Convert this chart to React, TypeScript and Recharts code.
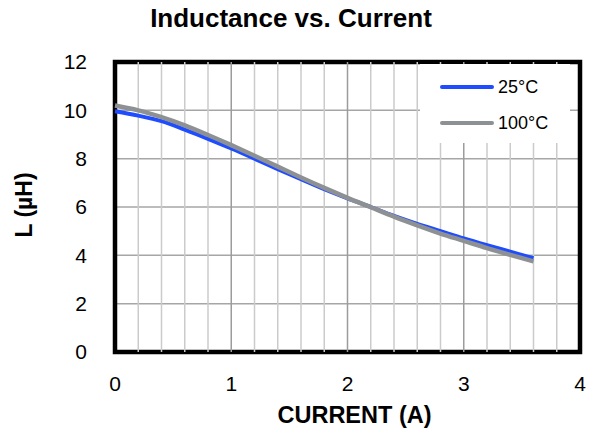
import React from 'react';
import {
  LineChart,
  Line,
  XAxis,
  YAxis,
  CartesianGrid,
  ReferenceLine,
  ReferenceArea,
  Legend,
  Label,
} from 'recharts';

// current (A)
const current = [0, 0.2, 0.4, 0.6, 0.8, 1.0, 1.2, 1.4, 1.6, 1.8, 2.0, 2.2, 2.4, 2.6, 2.8, 3.0, 3.2, 3.4, 3.6];
// inductance (uH)
const l25 = [9.96, 9.78, 9.55, 9.2, 8.82, 8.42, 8.0, 7.57, 7.15, 6.74, 6.36, 6.0, 5.63, 5.3, 5.0, 4.7, 4.42, 4.15, 3.88];
const l100 = [10.2, 10.0, 9.72, 9.38, 8.98, 8.56, 8.12, 7.67, 7.22, 6.79, 6.38, 5.99, 5.6, 5.24, 4.9, 4.6, 4.3, 4.02, 3.75];

const xTicks = [0, 1, 2, 3, 4];
const yTicks = [0, 2, 4, 6, 8, 10, 12];
const xMinor = [0.2, 0.4, 0.6, 0.8, 1.2, 1.4, 1.6, 1.8, 2.2, 2.4, 2.6, 2.8, 3.2, 3.4, 3.6, 3.8];
const xMajor = [1, 2, 3];

const seriesNames = ['25°C', '100°C'];

const data = current.map((c, i) => ({ current: c, t25: l25[i], t100: l100[i] }));

const FONT = '"Liberation Sans", Arial, sans-serif';

const LegendBox = ({ payload }: any) => {
  const items = [...(payload || [])].sort(
    (a: any, b: any) => seriesNames.indexOf(a.value) - seriesNames.indexOf(b.value)
  );
  return (
    <div style={{ position: 'relative', width: 150, height: 79, background: '#fff' }}>
      {items.map((p: any, i: number) => (
        <div
          key={p.value}
          style={{
            position: 'absolute',
            left: 20,
            top: i === 0 ? 11 : 47,
            height: 24,
            display: 'flex',
            alignItems: 'center',
            fontFamily: FONT,
            fontSize: 18,
            color: '#000',
          }}
        >
          <span style={{ display: 'inline-block', width: 54, height: 4, borderRadius: 2, background: p.color }} />
          <span style={{ marginLeft: 4 }}>{p.value}</span>
        </div>
      ))}
    </div>
  );
};

export default function App() {
  return (
    <div style={{ position: 'absolute', left: 0, top: 0, width: 597, height: 435, background: '#fff' }}>
      <div
        style={{
          position: 'absolute',
          left: 291,
          top: 5,
          transform: 'translateX(-50%)',
          whiteSpace: 'nowrap',
          fontFamily: FONT,
          fontWeight: 'bold',
          fontSize: 26,
          lineHeight: 1,
          color: '#000',
        }}
      >
        Inductance vs. Current
      </div>
      <LineChart width={597} height={435} data={data} margin={{ top: 62, right: 17, bottom: 0, left: 0 }}>
        <CartesianGrid vertical={false} stroke="#a6a6a6" strokeWidth={1.5} />
        {xMinor.map((x) => (
          <ReferenceLine key={'m' + x} x={x} stroke="#cbcbcb" strokeWidth={1.5} />
        ))}
        {xMajor.map((x) => (
          <ReferenceLine key={'M' + x} x={x} stroke="#9c9c9c" strokeWidth={1.5} />
        ))}
        <XAxis
          type="number"
          dataKey="current"
          domain={[0, 4]}
          ticks={xTicks}
          height={83}
          axisLine={false}
          tickLine={false}
          tickMargin={18}
          tick={{ fontSize: 21, fill: '#000', fontFamily: FONT }}
        >
          <Label
            content={({ viewBox }: any) => (
              <text
                x={viewBox.x + viewBox.width / 2 + 7}
                y={viewBox.y + 71}
                textAnchor="middle"
                fontFamily={FONT}
                fontWeight="bold"
                fontSize={23.5}
                fill="#000"
              >
                CURRENT (A)
              </text>
            )}
          />
        </XAxis>
        <YAxis
          type="number"
          domain={[0, 12]}
          ticks={yTicks}
          width={115}
          axisLine={false}
          tickLine={false}
          tickMargin={22}
          tick={{ fontSize: 21, fill: '#000', fontFamily: FONT }}
        >
          <Label
            content={({ viewBox }: any) => {
              const cx = 24;
              const cy = viewBox.y + viewBox.height / 2 - 2;
              return (
                <text
                  x={cx}
                  y={cy}
                  transform={`rotate(-90 ${cx} ${cy})`}
                  textAnchor="middle"
                  dominantBaseline="central"
                  fontFamily={FONT}
                  fontWeight="bold"
                  fontSize={23}
                  fill="#000"
                >
                  L (µH)
                </text>
              );
            }}
          />
        </YAxis>
        <Legend
          layout="vertical"
          align="center"
          verticalAlign="middle"
          wrapperStyle={{ left: 420, top: 64, width: 150, height: 79 }}
          content={<LegendBox />}
        />
        <Line
          type="monotone"
          dataKey="t25"
          name={seriesNames[0]}
          stroke="#1f4cff"
          strokeWidth={4}
          dot={false}
          isAnimationActive={false}
        />
        <Line
          type="monotone"
          dataKey="t100"
          name={seriesNames[1]}
          stroke="#8e9193"
          strokeWidth={4.5}
          dot={false}
          isAnimationActive={false}
        />
        <ReferenceArea x1={0} x2={4} y1={0} y2={12} fill="none" stroke="#000" strokeWidth={4.5} />
      </LineChart>
    </div>
  );
}
